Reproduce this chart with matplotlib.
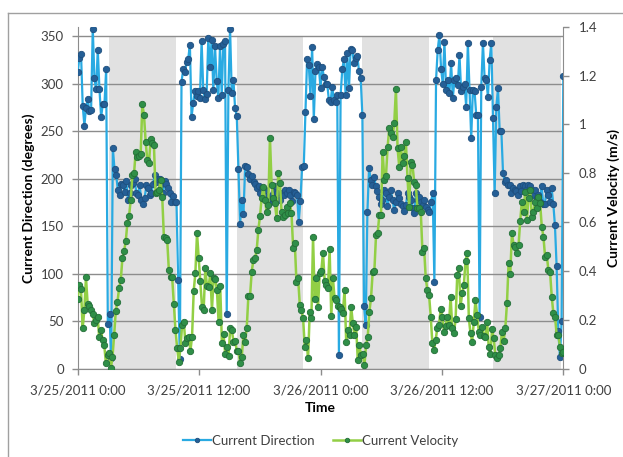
import matplotlib
matplotlib.use("Agg")
import matplotlib.pyplot as plt
import matplotlib.dates as mdates
from matplotlib.lines import Line2D
import pandas as pd

START = "2011-03-25 00:00"
END = "2011-03-27 00:00"

# current direction (degrees), 10 min samples
direction = [
    312, 327, 331, 277, 256, 275, 284, 271, 272, 358, 306, 294, 336, 294, 265, 279, 279, 315,
    47, 58, 12, 232, 210, 204, 188, 183, 195, 193, 186, 198, 178, 185, 193, 196, 200, 185,
    183, 193, 178, 173, 180, 193, 190, 183, 185, 195, 204, 197, 200, 200, 195, 185, 198, 195,
    190, 185, 176, 182, 176, 176, 94, 10, 302, 315, 312, 323, 326, 341, 265, 280, 292, 287,
    292, 285, 345, 293, 284, 289, 348, 318, 346, 293, 340, 303, 285, 340, 288, 342, 345, 58,
    293, 358, 290, 304, 274, 266, 210, 153, 178, 163, 213, 212, 205, 200, 203, 197, 195, 190,
    192, 185, 190, 183, 188, 177, 175, 180, 183, 187, 192, 185, 180, 178, 185, 183, 188, 185,
    188, 183, 177, 186, 185, 183, 155, 177, 212, 213, 270, 326, 320, 287, 339, 263, 313, 321,
    318, 295, 318, 307, 300, 300, 283, 281, 297, 283, 281, 288, 15, 288, 315, 326, 288, 332,
    295, 337, 335, 322, 327, 329, 313, 306, 267, 66, 46, 165, 211, 199, 194, 202, 192, 187,
    181, 174, 178, 188, 185, 171, 181, 188, 178, 167, 176, 185, 180, 174, 171, 166, 172, 185,
    181, 178, 169, 164, 185, 178, 181, 176, 172, 178, 170, 167, 165, 176, 185, 92, 304, 336,
    351, 316, 300, 344, 293, 304, 290, 322, 285, 304, 306, 299, 330, 292, 297, 300, 276, 343,
    293, 243, 293, 292, 267, 267, 55, 297, 343, 306, 304, 286, 325, 343, 264, 185, 276, 295,
    250, 250, 206, 197, 199, 194, 194, 185, 190, 188, 187, 183, 192, 187, 194, 192, 188, 194,
    192, 187, 183, 188, 180, 183, 176, 192, 174, 174, 188, 183, 176, 190, 174, 151, 108, 40,
    13, 50, 308,
]

# current velocity (m/s), 10 min samples
velocity = [
    0.286, 0.344, 0.326, 0.166, 0.241, 0.375, 0.266, 0.258, 0.241, 0.224, 0.19, 0.20, 0.214,
    0.13, 0.16, 0.119, 0.10, 0.026, 0.057, 0.064, 0.003, 0.05, 0.139, 0.239, 0.275, 0.331,
    0.364, 0.455, 0.483, 0.523, 0.598, 0.627, 0.69, 0.793, 0.80, 0.889, 0.868, 0.87, 0.879,
    1.082, 1.039, 0.93, 0.855, 0.841, 0.939, 0.923, 0.916, 0.718, 0.725, 0.732, 0.773, 0.705,
    0.541, 0.537, 0.528, 0.405, 0.375, 0.375, 0.264, 0.16, 0.087, 0.03, 0.085, 0.18, 0.194,
    0.105, 0.125, 0.132, 0.074, 0.132, 0.32, 0.391, 0.555, 0.455, 0.361, 0.255, 0.241, 0.412,
    0.339, 0.337, 0.391, 0.241, 0.371, 0.367, 0.323, 0.194, 0.339, 0.105, 0.142, 0.061, 0.091,
    0.053, 0.166, 0.16, 0.112, 0.115, 0.074, 0.074, 0.026, 0.05, 0.139, 0.112, 0.169, 0.30,
    0.30, 0.398, 0.446, 0.453, 0.487, 0.568, 0.626, 0.70, 0.746, 0.691, 0.643, 0.671, 0.946,
    0.753, 0.698, 0.678, 0.616, 0.803, 0.762, 0.643, 0.623, 0.63, 0.664, 0.637, 0.678, 0.637,
    0.494, 0.514, 0.354, 0.371, 0.262,
    0.241, 0.207, 0.091, 0.119, 0.044, 0.232, 0.207, 0.541, 0.285, 0.371, 0.252, 0.391, 0.402,
    0.476, 0.36, 0.344, 0.33, 0.489, 0.217, 0.371, 0.289, 0.282, 0.258, 0.255, 0.244, 0.228,
    0.323, 0.112, 0.16, 0.139, 0.255, 0.187, 0.139, 0.173, 0.037, 0.098, 0.057, 0.061, 0.016,
    0.098, 0.132, 0.234, 0.292, 0.398, 0.401, 0.548, 0.555, 0.63, 0.63, 0.889, 0.773, 0.789,
    0.909, 0.984, 0.964, 0.95, 1.005, 1.144, 0.903, 0.828, 0.909, 0.841, 0.871, 0.93, 0.78,
    0.664, 0.848, 0.834, 0.766, 0.753, 0.657, 0.657, 0.643, 0.48, 0.494, 0.371, 0.323, 0.303,
    0.214, 0.105, 0.078, 0.119, 0.169, 0.18, 0.245, 0.214, 0.153, 0.176, 0.214, 0.18, 0.296,
    0.166, 0.146, 0.203, 0.384, 0.412, 0.258, 0.309, 0.344, 0.442, 0.473, 0.207, 0.146, 0.112,
    0.194, 0.282, 0.221, 0.153, 0.139, 0.173, 0.136, 0.132, 0.194, 0.091, 0.061, 0.162, 0.125,
    0.057, 0.044, 0.057, 0.085, 0.153, 0.115, 0.166, 0.269, 0.435, 0.389, 0.555, 0.507, 0.498,
    0.473, 0.507, 0.607, 0.685, 0.643, 0.725, 0.61, 0.698, 0.732, 0.623, 0.643, 0.685, 0.66,
    0.705, 0.678, 0.582, 0.541, 0.459, 0.466, 0.405, 0.398, 0.296, 0.228, 0.214, 0.139, 0.139,
    0.091, 0.064, 0.071,
]

# shaded periods (start, end)
shade_periods = [
    ("2011-03-25 03:05", "2011-03-25 09:41"),
    ("2011-03-25 15:43", "2011-03-25 22:18"),
    ("2011-03-26 04:08", "2011-03-26 10:44"),
    ("2011-03-26 17:02", "2011-03-26 23:45"),
]

xticks = pd.date_range(START, END, freq="12h")

dir_time = pd.date_range(START, END, periods=len(direction))
vel_time = pd.date_range(START, END, periods=len(velocity))

plt.rcParams['font.family'] = ['Lato', 'DejaVu Sans']
TXT = "#404040"
AXC = "#8c8c8c"

fig = plt.figure(figsize=(6.23, 4.57), dpi=100)
ax = fig.add_axes([0.1247, 0.1926, 0.7795, 0.749])
ax2 = ax.twinx()

for s, e in shade_periods:
    ax.axvspan(pd.Timestamp(s), pd.Timestamp(e), ymin=0, ymax=350 / 360,
               color="#e1e1e1", lw=0, zorder=0)

ax.set_ylim(0, 360)
ax.set_yticks(range(0, 351, 50))
ax.yaxis.grid(True, color=AXC, lw=1.0, zorder=1)
ax.set_axisbelow(True)

ax.plot(dir_time, direction, color="#29aae2", lw=1.6, marker="o", ms=4.6,
        mfc="#255f96", mec="#1e4f7e", mew=0.6, zorder=3, label="Current Direction")
ax2.plot(vel_time, velocity, color="#92cf45", lw=1.8, marker="o", ms=4.6,
         mfc="#2f8f48", mec="#236e37", mew=0.6, zorder=3, label="Current Velocity")

ax2.set_ylim(0, 1.4)
ax2.set_yticks([0, 0.2, 0.4, 0.6, 0.8, 1, 1.2, 1.4])
ax2.set_yticklabels(["0", "0.2", "0.4", "0.6", "0.8", "1", "1.2", "1.4"])

ax.set_xlim(pd.Timestamp(START), pd.Timestamp(END))
ax.set_xticks(xticks)
ax.xaxis.set_major_formatter(mdates.DateFormatter("%-m/%-d/%Y %-H:%M"))

for a in (ax, ax2):
    for sp in a.spines.values():
        sp.set_visible(False)
    a.tick_params(colors=AXC, labelcolor=TXT, labelsize=9.5, length=4, width=1)
ax.spines["left"].set_visible(True)
ax.spines["left"].set_color(AXC)
ax.spines["bottom"].set_visible(True)
ax.spines["bottom"].set_color(AXC)
ax2.spines["right"].set_visible(True)
ax2.spines["right"].set_color(AXC)
ax.tick_params(axis="y", pad=6)
ax2.tick_params(axis="y", pad=7)
ax.tick_params(axis="x", pad=7)

ax.set_ylabel("Current Direction (degrees)", fontsize=10, fontweight="bold", color="black", labelpad=4)
ax2.set_ylabel("Current Velocity (m/s)", fontsize=10, fontweight="bold", color="black", labelpad=7)
ax.set_xlabel("Time", fontsize=10, fontweight="bold", color="black", labelpad=4)

h1, l1 = ax.get_legend_handles_labels()
h2, l2 = ax2.get_legend_handles_labels()
fig.legend(h1 + h2, l1 + l2, loc="center", bbox_to_anchor=(0.515, 0.035), ncol=2, frameon=False,
           fontsize=9.5, labelcolor=TXT, handlelength=2.1, columnspacing=1.4, markerscale=0.7,
           handletextpad=0.1)

# chart area border
fig.add_artist(Line2D([8 / 623, 1], [1 - 13 / 457] * 2, transform=fig.transFigure, color="#a0a0a0", lw=1))
fig.add_artist(Line2D([8 / 623] * 2, [0, 1 - 13 / 457], transform=fig.transFigure, color="#a0a0a0", lw=1))

fig.savefig("out.png", dpi=100)
